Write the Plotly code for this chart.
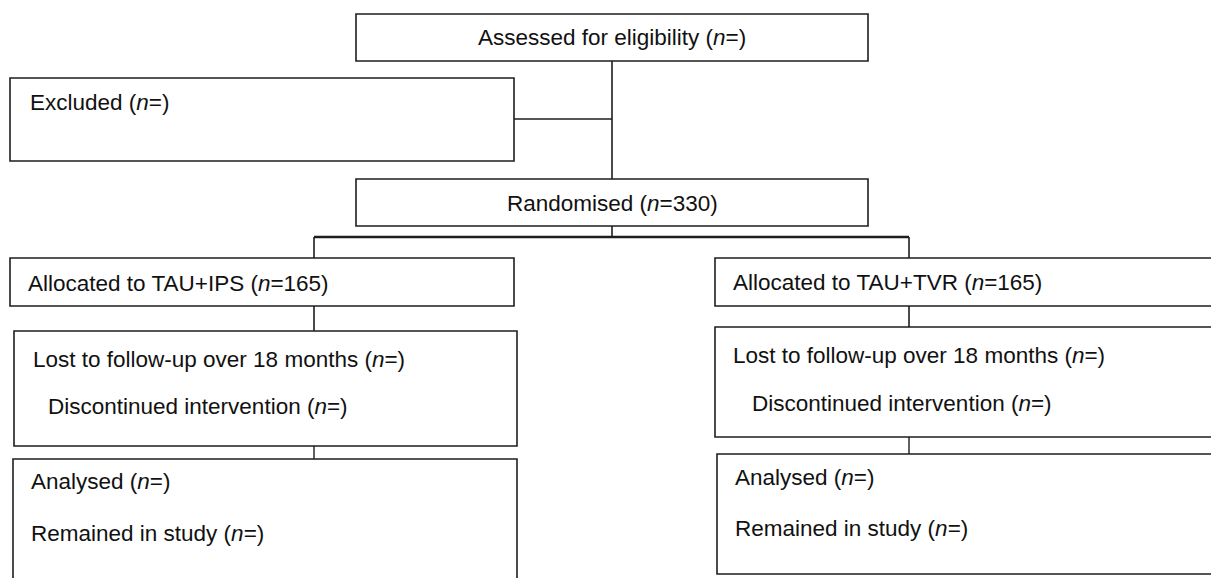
import plotly.graph_objects as go

# ---- data: flow stages and counts ----
stage_labels = [
    "Assessed for eligibility",
    "Excluded",
    "Randomised",
    "Allocated to TAU+IPS",
    "Allocated to TAU+TVR",
    "Lost to follow-up over 18 months",
    "Discontinued intervention",
    "Lost to follow-up over 18 months",
    "Discontinued intervention",
    "Analysed",
    "Remained in study",
    "Analysed",
    "Remained in study",
]
stage_counts = ["", "", "330", "165", "165", "", "", "", "", "", "", "", ""]

W, H = 1211, 578

# ---- layout geometry (pixel space, y downward) ----
boxes = [
    (356, 14, 868, 61),     # assessed
    (10, 78, 514, 161),     # excluded
    (356, 179, 868, 226),   # randomised
    (10, 258, 514, 306),    # allocated IPS
    (715, 258, 1240, 306),  # allocated TVR
    (14, 331, 517, 446),    # lost IPS
    (715, 327, 1240, 437),  # lost TVR
    (13, 459, 517, 600),    # analysed IPS
    (717, 454, 1240, 574),  # analysed TVR
]
# text placement: (x, y, anchor)
text_pos = [
    (612, 37, "center"),
    (28, 102, "left"),
    (612, 203, "center"),
    (26, 283, "left"),
    (731, 282, "left"),
    (31, 359, "left"),
    (46, 406, "left"),
    (731, 355, "left"),
    (750, 403, "left"),
    (29, 481, "left"),
    (29, 533, "left"),
    (733, 477, "left"),
    (733, 528, "left"),
]
connectors = [
    ((612, 61), (612, 179), 1.6),
    ((514, 119), (612, 119), 1.6),
    ((612, 226), (612, 237), 1.6),
    ((314, 237), (909, 237), 2.4),
    ((314, 237), (314, 258), 1.6),
    ((909, 237), (909, 258), 1.6),
    ((314, 306), (314, 331), 1.6),
    ((909, 306), (909, 327), 1.6),
    ((314, 446), (314, 459), 1.4),
    ((909, 437), (909, 454), 1.4),
]

line_color = "#1e1e1e"
font_family = "Liberation Sans, Arial, sans-serif"

fig = go.Figure()
fig.add_trace(go.Scatter(x=[0, W], y=[0, H], mode="markers",
                         marker=dict(opacity=0), hoverinfo="skip", showlegend=False))

shapes = []
for (x0, y0, x1, y1) in boxes:
    shapes.append(dict(type="rect", xref="x", yref="y", x0=x0, y0=y0, x1=x1, y1=y1,
                       line=dict(color=line_color, width=1.6), fillcolor="rgba(0,0,0,0)",
                       layer="above"))
for (a, b, w) in connectors:
    shapes.append(dict(type="line", xref="x", yref="y", x0=a[0], y0=a[1], x1=b[0], y1=b[1],
                       line=dict(color=line_color, width=w), layer="above"))

annotations = []
for label, count, (tx, ty, anc) in zip(stage_labels, stage_counts, text_pos):
    txt = f"{label} (<i>n</i>={count})"
    annotations.append(dict(x=tx, y=ty, xref="x", yref="y", text=txt, showarrow=False,
                            xanchor=anc, yanchor="middle",
                            font=dict(family=font_family, size=22.5, color="#111111")))

fig.update_layout(
    width=W, height=H,
    margin=dict(l=0, r=0, t=0, b=0),
    paper_bgcolor="white", plot_bgcolor="white",
    xaxis=dict(range=[0, W], visible=False, fixedrange=True),
    yaxis=dict(range=[H, 0], visible=False, fixedrange=True),
    shapes=shapes, annotations=annotations, showlegend=False,
)

fig.write_html(
    "out.html",
    config={"displayModeBar": False},
    post_script="document.body.style.margin='0';document.body.style.overflow='hidden';",
)
